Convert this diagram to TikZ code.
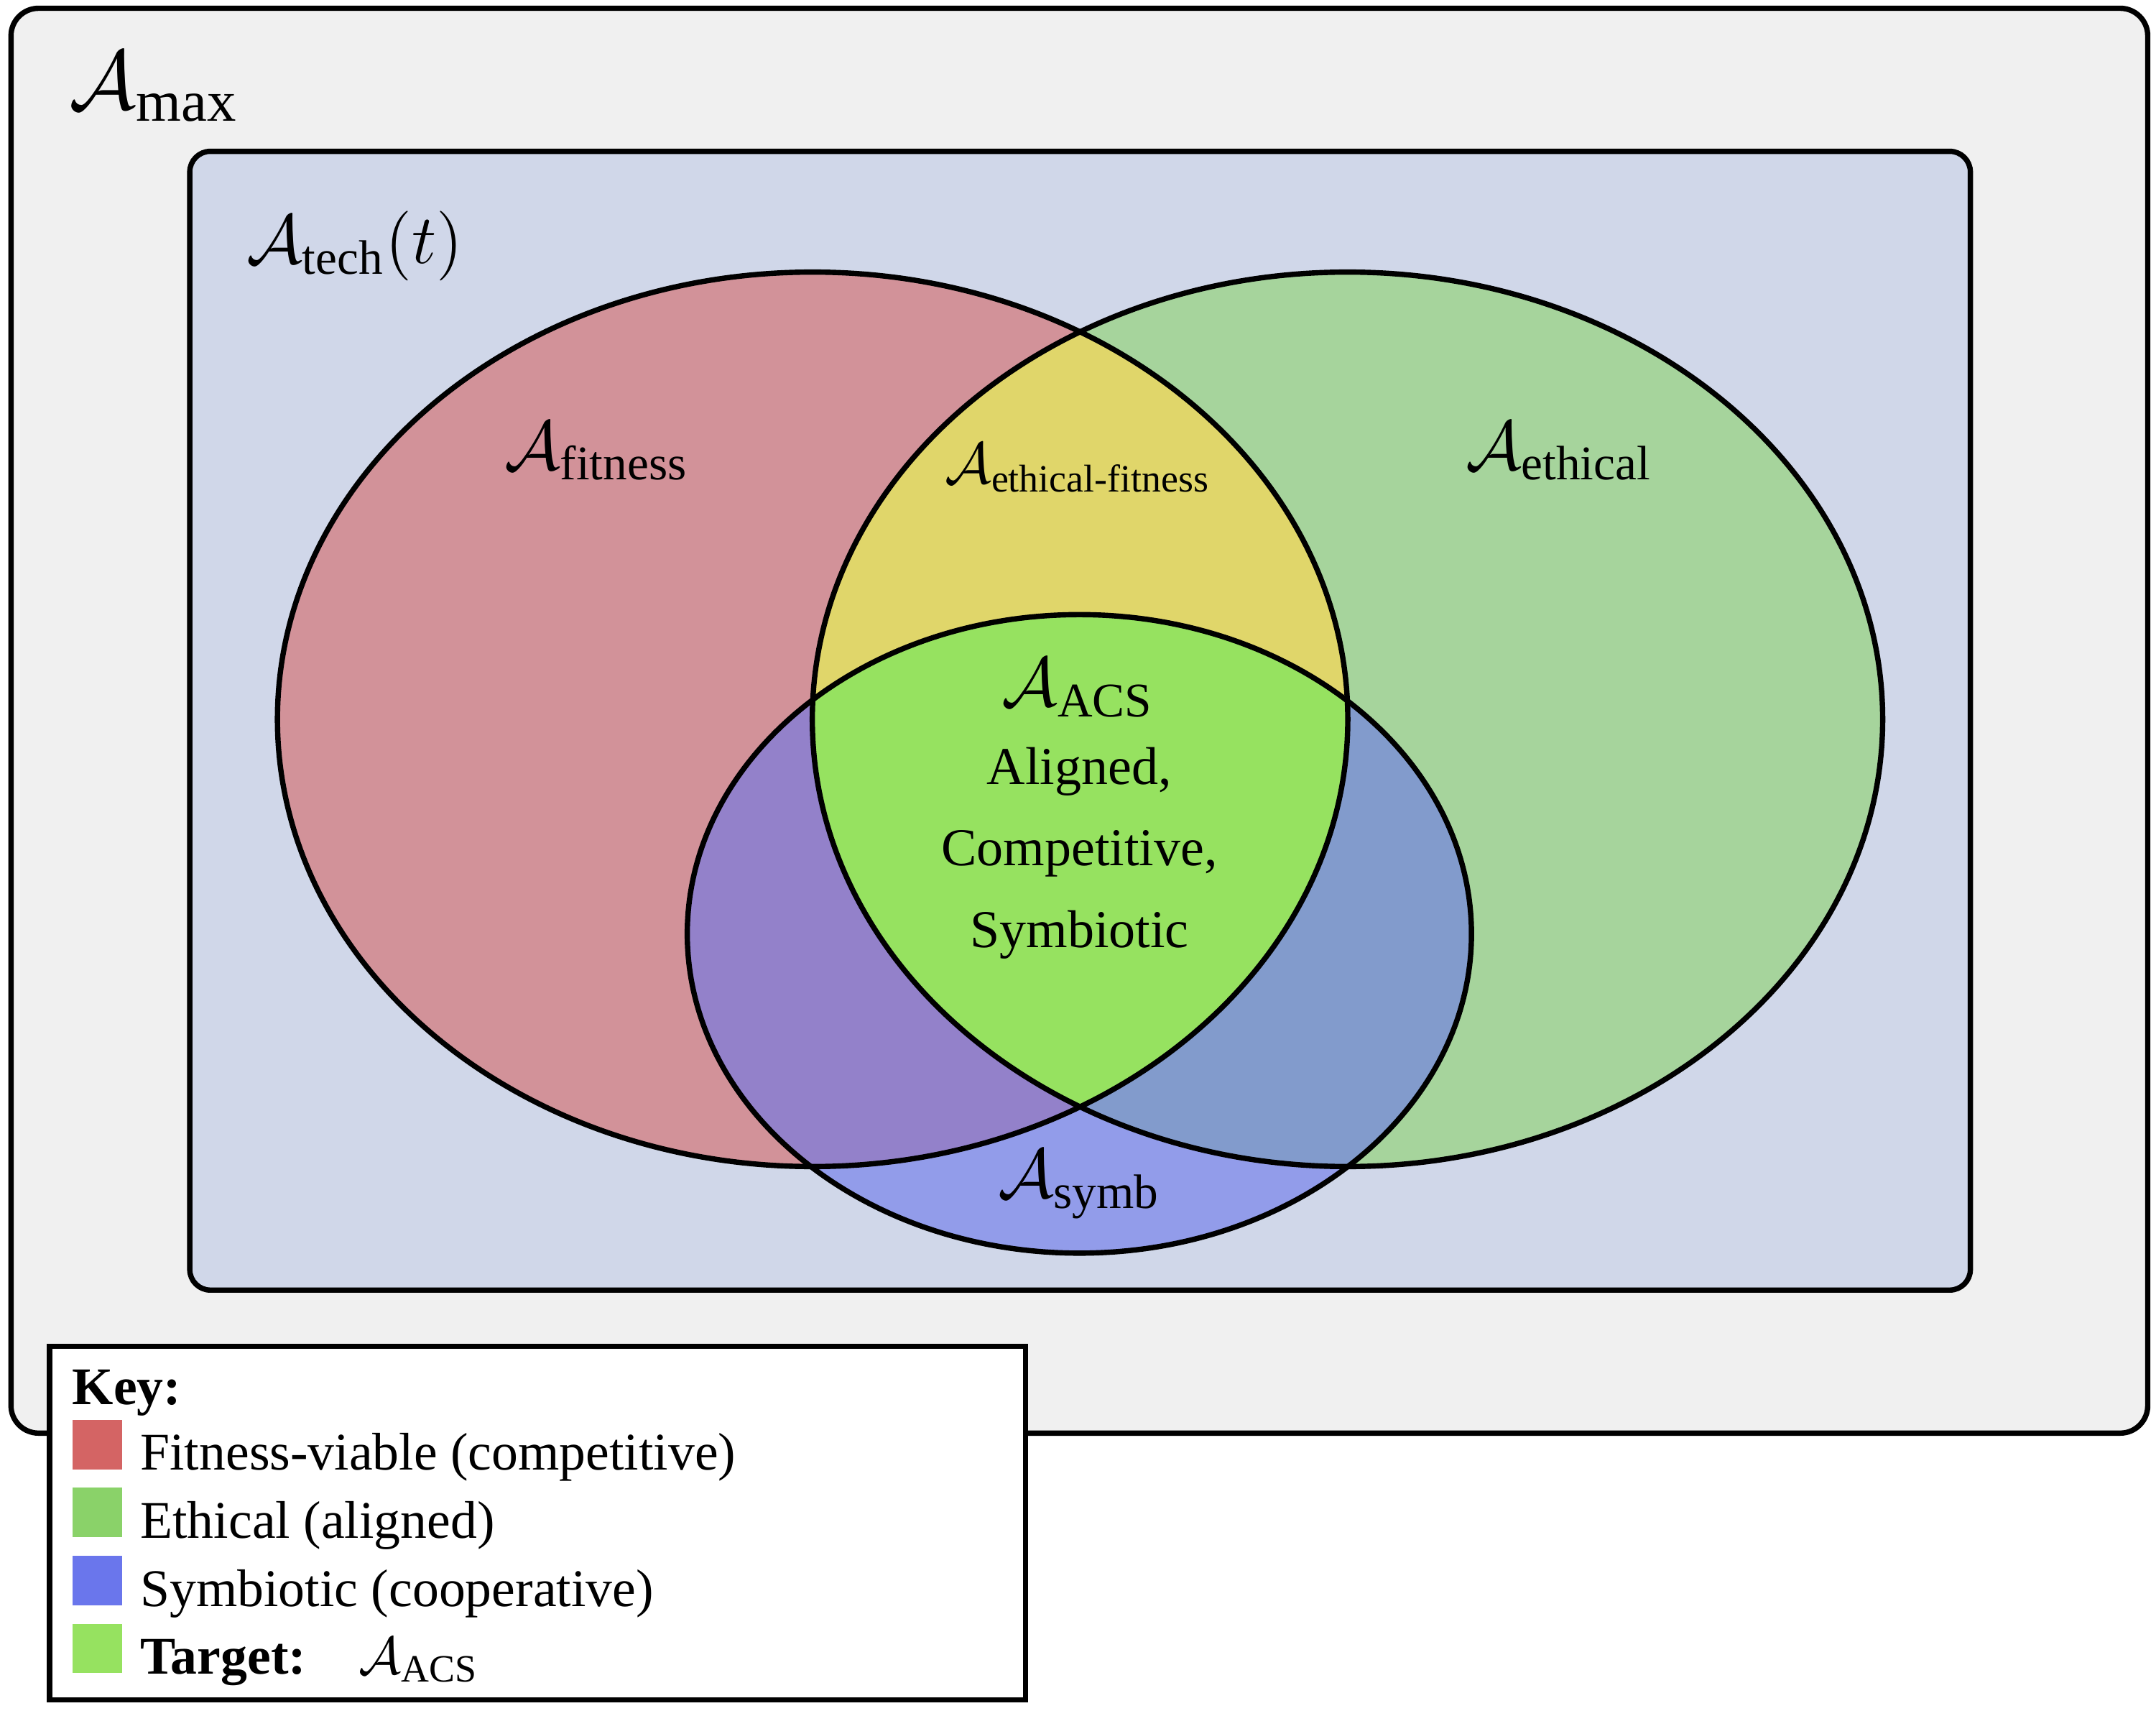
\documentclass[tikz,border=0pt,11pt]{standalone}
\usepackage{amssymb}
\usepackage{amsmath}
\usepackage{fontspec}
\setmainfont{Liberation Serif}
\usepackage{tikz}
\usetikzlibrary{positioning}

\definecolor{maxbg}{HTML}{F0F0F0}
\definecolor{techbg}{HTML}{D0D7E9}
\definecolor{fitcol}{HTML}{D46464}
\definecolor{ethcol}{HTML}{8AD269}
\definecolor{symcol}{HTML}{6A76EC}
\definecolor{efcol}{HTML}{E0D66A}
\definecolor{acscol}{HTML}{96E260}

\newcommand{\fitnessellipse}{(591,523) ellipse [x radius=3.89cm, y radius=3.25cm]}
\newcommand{\ethicalellipse}{(980,523) ellipse [x radius=3.89cm, y radius=3.25cm]}
\newcommand{\symbellipse}{(785,679) ellipse [x radius=2.85cm, y radius=2.32cm]}

\begin{document}
\begin{tikzpicture}[x=0.01cm, y=-0.01cm,
  setline/.style = {draw=black, line width=1.1pt},
  setlabel/.style = {inner sep=0pt, font=\Large},
  swatch/.style = {minimum size=0.36cm, inner sep=0pt, anchor=south west},
  keytext/.style = {inner sep=0pt, anchor=base west}]
  \useasboundingbox (0,0) rectangle (1568,1244);

  % spaces
  \draw[setline, fill=maxbg, rounded corners=0.2cm] (8,6) rectangle (1562,1042);
  \draw[setline, fill=techbg, rounded corners=0.15cm] (138,110) rectangle (1433,938);

  % sets
  \fill[fitcol, fill opacity=0.6] \fitnessellipse;
  \fill[ethcol, fill opacity=0.6] \ethicalellipse;
  \fill[symcol, fill opacity=0.6] \symbellipse;
  \begin{scope}
    \clip \fitnessellipse;
    \clip \ethicalellipse;
    \fill[efcol] (0,0) rectangle (1568,1244);
    \clip \symbellipse;
    \fill[acscol] (0,0) rectangle (1568,1244);
  \end{scope}
  \draw[setline] \fitnessellipse;
  \draw[setline] \ethicalellipse;
  \draw[setline] \symbellipse;

  % labels
  \node[setlabel, font=\LARGE] (max) at (112,63) {$\mathcal{A}_{\text{max}}$};
  \node[setlabel] (tech) at (258,179) {$\mathcal{A}_{\text{tech}}(t)$};
  \node[setlabel] (fit) at (434,328) {$\mathcal{A}_{\text{fitness}}$};
  \node[setlabel, font=\large] (ethfit) at (784,340) {$\mathcal{A}_{\text{ethical-fitness}}$};
  \node[setlabel] (eth) at (1134,328) {$\mathcal{A}_{\text{ethical}}$};
  \node[setlabel] (acs) at (784,500) {$\mathcal{A}_{\text{ACS}}$};
  \node[inner sep=0pt, align=center, font=\fontsize{11}{16.9}\selectfont, anchor=base]
    (acstext) at (785,689) {Aligned,\\Competitive,\\Symbiotic};
  \node[setlabel] (symb) at (785,861) {$\mathcal{A}_{\text{symb}}$};

  % key
  \draw[setline, fill=white] (36,979) rectangle (746,1236);
  \node[keytext] (key) at (52,1021) {\textbf{Key:}};
  \node[swatch, fill=fitcol] (s1) at (52,1069) {};
  \node[swatch, fill=ethcol, below=0.12cm of s1] (s2) {};
  \node[swatch, fill=symcol, below=0.12cm of s2] (s3) {};
  \node[swatch, fill=acscol, below=0.12cm of s3] (s4) {};
  \node[keytext] (k1) at ([xshift=0.12cm]s1.south east) {Fitness-viable (competitive)};
  \node[keytext] (k2) at ([xshift=0.12cm]s2.south east) {Ethical (aligned)};
  \node[keytext] (k3) at ([xshift=0.12cm]s3.south east) {Symbiotic (cooperative)};
  \node[keytext] (k4) at ([xshift=0.12cm]s4.south east) {\textbf{Target:}\quad$\mathcal{A}_{\text{ACS}}$};
\end{tikzpicture}
\end{document}
